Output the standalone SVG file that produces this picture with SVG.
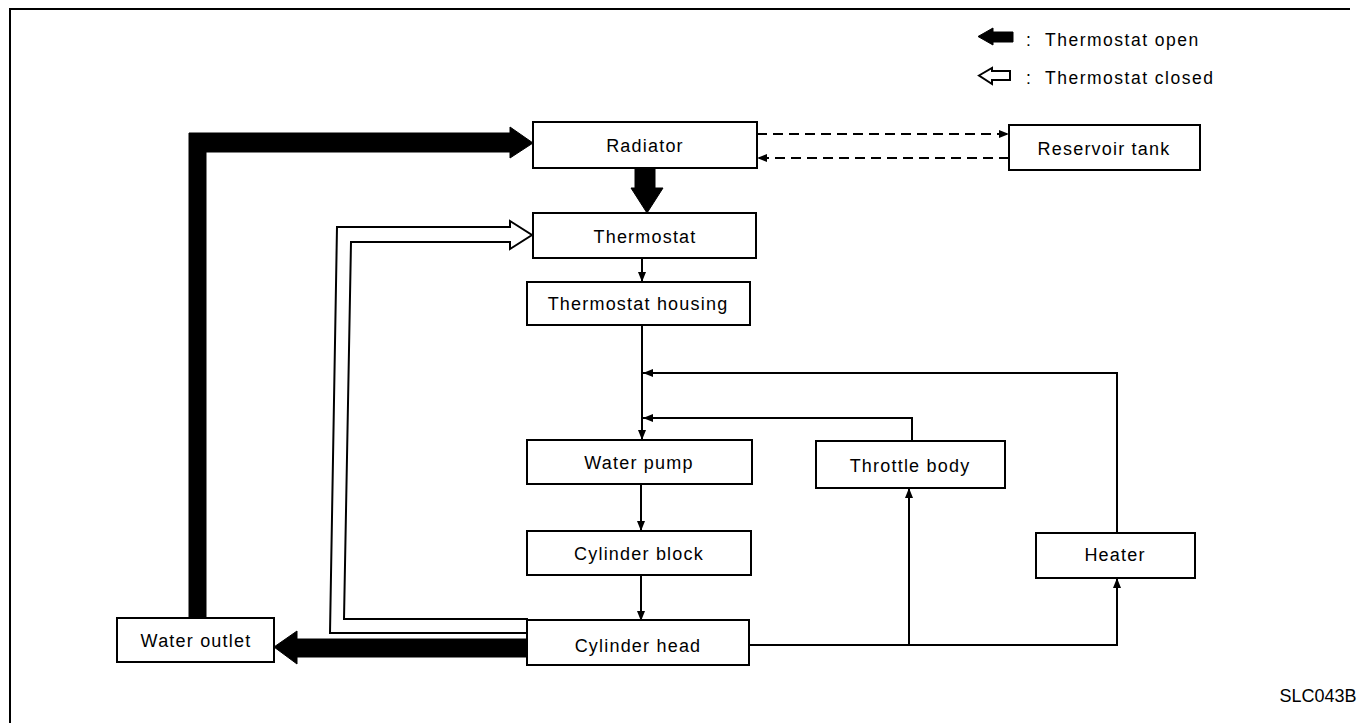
<svg xmlns="http://www.w3.org/2000/svg" width="1359" height="723" viewBox="0 0 1359 723">
<style>
.box{fill:#fff;stroke:#000;stroke-width:2}
.lbl{font-family:"Liberation Sans",Arial,sans-serif;font-size:18px;letter-spacing:1.2px;fill:#000;text-anchor:middle}
.leg{font-family:"Liberation Sans",Arial,sans-serif;font-size:17.5px;letter-spacing:1.5px;fill:#000}
.ln{fill:none;stroke:#000;stroke-width:2}
.dash{fill:none;stroke:#000;stroke-width:2;stroke-dasharray:10 6}
.thick{fill:#000;stroke:#000;stroke-width:1}
.hollow{fill:#fff;stroke:#000;stroke-width:2;stroke-linejoin:miter}
</style>
<defs>
<marker id="ah" markerUnits="userSpaceOnUse" markerWidth="11" markerHeight="8" refX="10" refY="4" orient="auto">
<path d="M0,0 L10,4 L0,8 z" fill="#000"/>
</marker>
</defs>
<rect width="1359" height="723" fill="#fff"/>
<g id="frame">
<path d="M10,723 L10,9 L1350,9" class="ln"/>
</g>
<g id="legend">
<polygon class="thick" points="978,36.5 993,28 993,32 1013,32 1013,42 993,42 993,45"/>
<text class="leg" x="1026" y="46">:<tspan x="1045">Thermostat open</tspan></text>
<polygon class="hollow" points="979,75.5 992,68 992,71 1010,71 1010,80 992,80 992,84"/>
<text class="leg" x="1026" y="84">:<tspan x="1045">Thermostat closed</tspan></text>
</g>
<g id="connectors">
<polygon class="thick" points="189,618 189,133 510,133 510,127 533,143 510,158 510,152 206,152 206,618"/>
<polygon class="thick" points="635,168 655,168 655,188 663,188 647,213 631,188 635,188"/>
<polygon class="thick" points="527,639 297,639 297,631 274,647 297,664 297,657 527,657"/>
<polygon class="hollow" points="527,633 330,633 337,227 510,227 510,221 532,235 510,249 510,242 351,242 344,619 527,619"/>
<line class="ln" x1="642" y1="258" x2="642" y2="282" marker-end="url(#ah)"/>
<line class="ln" x1="642" y1="325" x2="642" y2="440" marker-end="url(#ah)"/>
<polyline class="ln" points="1117,533 1117,373 643,373" marker-end="url(#ah)"/>
<polyline class="ln" points="912,441 912,418 643,418" marker-end="url(#ah)"/>
<line class="ln" x1="641" y1="484" x2="641" y2="531" marker-end="url(#ah)"/>
<line class="ln" x1="641" y1="575" x2="641" y2="621" marker-end="url(#ah)"/>
<polyline class="ln" points="749,645 1117,645 1117,578" marker-end="url(#ah)"/>
<polyline class="ln" points="909,645 909,488" marker-end="url(#ah)"/>
<line class="dash" x1="757" y1="134" x2="1009" y2="134" marker-end="url(#ah)"/>
<line class="dash" x1="1009" y1="158" x2="757" y2="158" marker-end="url(#ah)"/>
</g>
<g id="radiator"><rect class="box" x="533" y="122" width="224" height="46"/><text class="lbl" x="645" y="152">Radiator</text></g>
<g id="reservoir-tank"><rect class="box" x="1009" y="125" width="191" height="45"/><text class="lbl" x="1104" y="155">Reservoir tank</text></g>
<g id="thermostat"><rect class="box" x="533" y="213" width="223" height="45"/><text class="lbl" x="645" y="243">Thermostat</text></g>
<g id="thermostat-housing"><rect class="box" x="527" y="282" width="223" height="43"/><text class="lbl" x="638" y="310">Thermostat housing</text></g>
<g id="water-pump"><rect class="box" x="527" y="440" width="225" height="44"/><text class="lbl" x="639" y="469">Water pump</text></g>
<g id="throttle-body"><rect class="box" x="816" y="441" width="189" height="47"/><text class="lbl" x="910" y="472">Throttle body</text></g>
<g id="cylinder-block"><rect class="box" x="527" y="531" width="224" height="44"/><text class="lbl" x="639" y="560">Cylinder block</text></g>
<g id="heater"><rect class="box" x="1036" y="533" width="159" height="45"/><text class="lbl" x="1115" y="561">Heater</text></g>
<g id="cylinder-head"><rect class="box" x="527" y="620" width="222" height="45"/><text class="lbl" x="638" y="652">Cylinder head</text></g>
<g id="water-outlet"><rect class="box" x="117" y="618" width="157" height="44"/><text class="lbl" x="196" y="647">Water outlet</text></g>
<text class="lbl" x="1318" y="702" style="letter-spacing:0">SLC043B</text>
</svg>
